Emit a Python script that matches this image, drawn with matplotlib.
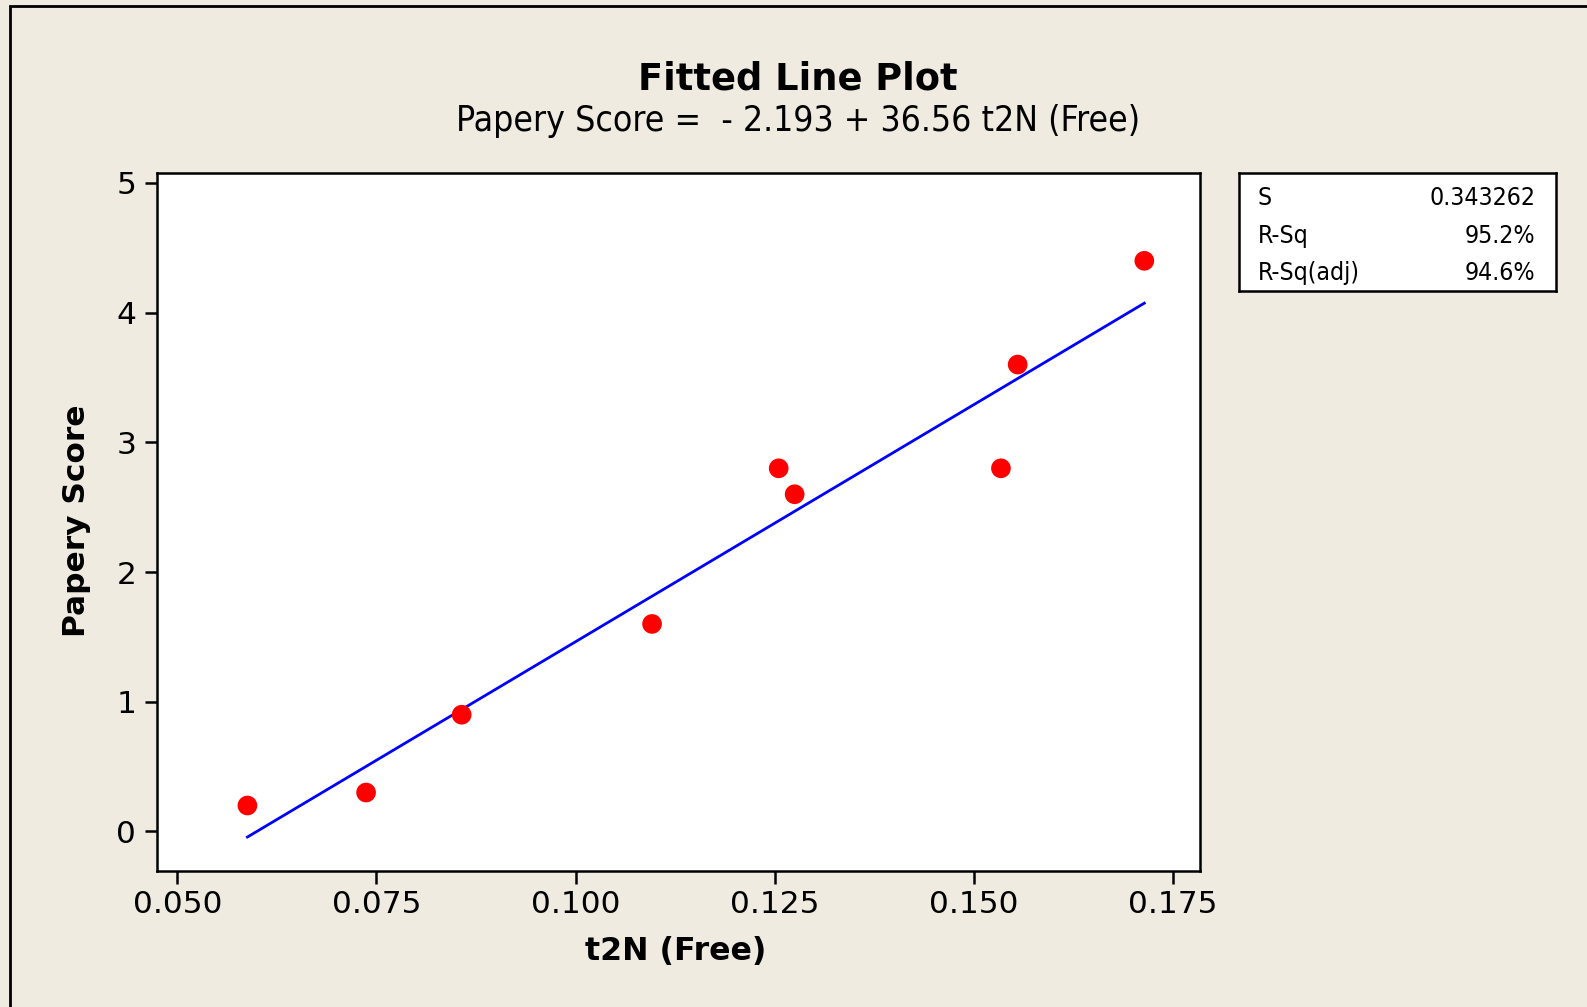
import numpy as np
import matplotlib
matplotlib.use("Agg")
import matplotlib.pyplot as plt
from matplotlib.patches import Rectangle

# Observations
t2n_free = [0.0588, 0.0737, 0.0857, 0.1096, 0.1255, 0.1275, 0.1534, 0.1555, 0.1714]
papery_score = [0.2, 0.3, 0.9, 1.6, 2.8, 2.6, 2.8, 3.6, 4.4]

# Regression summary
intercept = -2.193
slope = 36.56
stat_names = ["S", "R-Sq", "R-Sq(adj)"]
stat_values = ["0.343262", "95.2%", "94.6%"]

x_ticks = [0.050, 0.075, 0.100, 0.125, 0.150, 0.175]
x_tick_labels = ["0.050", "0.075", "0.100", "0.125", "0.150", "0.175"]
y_ticks = [0, 1, 2, 3, 4, 5]

BG = "#EFEBE1"
W, H = 1587, 1007
plt.rcParams["font.family"] = ["DejaVu Sans"]

fig = plt.figure(figsize=(W / 100, H / 100), dpi=100)
fig.patch.set_facecolor(BG)

# outer frame (runs off the right and bottom edges)
fig.patches.append(Rectangle((9.5 / W, -0.05), 1.2, 1 - 5.5 / H + 0.05,
                             transform=fig.transFigure, fill=False,
                             edgecolor="black", linewidth=2.0))

ax = fig.add_axes([157 / W, 1 - 871 / H, (1200 - 157) / W, (871 - 173) / H])
ax.set_facecolor("white")
ax.set_xlim(0.04745, 0.17839)
ax.set_ylim(-0.305, 5.077)
for sp in ax.spines.values():
    sp.set_linewidth(1.8)
ax.set_xticks(x_ticks)
ax.set_xticklabels(x_tick_labels)
ax.set_yticks(y_ticks)
ax.tick_params(axis="both", direction="out", length=9, width=1.8,
               labelsize=22.5, colors="black")
ax.tick_params(axis="x", pad=5)
ax.tick_params(axis="y", pad=6)

# fitted line across the observed range
xs = np.array([min(t2n_free), max(t2n_free)])
ax.plot(xs, intercept + slope * xs, color="#0000FF", linewidth=2.0, zorder=2)
ax.scatter(t2n_free, papery_score, s=200, color="#FF0000", edgecolors="none", zorder=3)

# titles
fig.text(0.5026, 1 - 90 / H, "Fitted Line Plot", ha="center", va="baseline",
         fontsize=26.5, fontweight="bold")
fig.text(0.503, 1 - 131 / H,
         f"Papery Score =  - {abs(intercept):.3f} + {slope:.2f} t2N (Free)",
         ha="center", va="baseline", fontsize=25.5, fontstretch="condensed")

# axis labels
fig.text(676 / W, 1 - 960 / H, "t2N (Free)", ha="center", va="baseline",
         fontsize=22.8, fontweight="bold")
fig.text(85 / W, 1 - 521 / H, "Papery Score", ha="center", va="baseline",
         rotation=90, rotation_mode="anchor", fontsize=22.5, fontweight="bold")

# summary box
box = fig.add_axes([1239 / W, 1 - 291 / H, (1556 - 1239) / W, (291 - 173.3) / H])
box.set_facecolor("white")
box.set_xticks([])
box.set_yticks([])
for sp in box.spines.values():
    sp.set_linewidth(1.8)
row_y = [0.731, 0.405, 0.093]
for name, val, yy in zip(stat_names, stat_values, row_y):
    box.text(0.059, yy, name, ha="left", va="baseline", fontsize=17.8,
             fontstretch="condensed", transform=box.transAxes)
    box.text(0.934, yy, val, ha="right", va="baseline", fontsize=17.8,
             fontstretch="condensed", transform=box.transAxes)

fig.savefig("out.png", dpi=100, facecolor=BG)
